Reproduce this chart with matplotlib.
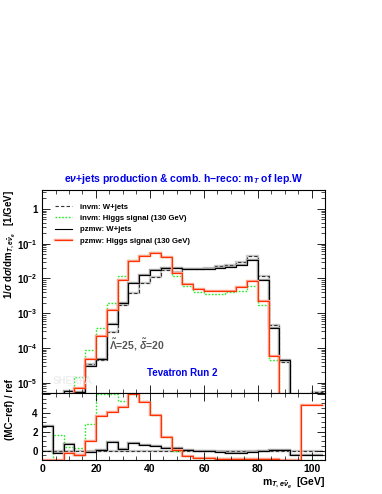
import numpy as np
import matplotlib
matplotlib.use("Agg")
import matplotlib.pyplot as plt
from matplotlib.ticker import MultipleLocator, LogLocator, NullFormatter, FuncFormatter
from matplotlib.lines import Line2D

plt.rcParams['font.family'] = ['Liberation Sans', 'DejaVu Sans']
plt.rcParams['font.weight'] = 'bold'
plt.rcParams['mathtext.fontset'] = 'custom'
plt.rcParams['mathtext.rm'] = 'Liberation Sans:bold'
plt.rcParams['mathtext.it'] = 'Liberation Sans:bold:italic'
plt.rcParams['mathtext.bf'] = 'Liberation Sans:bold'
plt.rcParams['mathtext.sf'] = 'Liberation Sans:bold'

# ---------------- data ----------------
bin_edges = np.arange(0, 108, 4)   # 26 bins of 4 GeV

invm_wjets = [1e-6, 4e-6, 4e-6, 5e-6, 3.4e-5, 4.6e-5, 2.95e-4, 1.74e-3, 3.8e-3, 7.6e-3,
              1.12e-2, 1.7e-2, 1.58e-2, 1.82e-2, 1.9e-2, 2.0e-2, 2.3e-2, 2.45e-2, 2.9e-2, 4.3e-2,
              1.2e-2, 4.7e-4, 4.0e-5, 0, 0, 5.5e-6]
invm_higgs = [0, 4e-6, 4e-6, 1.5e-5, 8.9e-5, 3.9e-4, 1.95e-3, 1.17e-2, 3.5e-2, 4.7e-2,
              5.6e-2, 4.1e-2, 1.17e-2, 5.9e-3, 4.0e-3, 3.6e-3, 3.6e-3, 4.0e-3, 4.5e-3, 5.9e-3,
              1.74e-3, 4.6e-5, 0, 0, 0, 0]
pzmw_wjets = [3e-6, 3e-6, 5.8e-6, 5.4e-6, 3.0e-5, 4.8e-5, 5.0e-4, 1.95e-3, 7.2e-3, 1.26e-2,
              1.7e-2, 2.0e-2, 2.0e-2, 1.9e-2, 1.86e-2, 1.86e-2, 2.0e-2, 2.2e-2, 2.45e-2, 3.3e-2,
              9.1e-3, 3.9e-4, 4.4e-5, 0, 0, 0]
pzmw_higgs = [0, 0, 4.0e-6, 7.2e-6, 4.8e-5, 2.2e-4, 1.26e-3, 9.1e-3, 3.2e-2, 4.3e-2,
              5.4e-2, 4.1e-2, 1.48e-2, 6.8e-3, 4.9e-3, 4.4e-3, 4.3e-3, 4.4e-3, 5.6e-3, 8.5e-3,
              2.3e-3, 5.8e-5, 0, 0, 3.2e-6, 3.2e-6]

# ratio (MC-ref)/ref, reference = invm W+jets
ratio_invm_wjets = [0.0] * 26
ratio_invm_higgs = [-1, 1.68, 0.39, 0.22, 2.83, 6.5, 6.5, 5.27, 6.5, 5.2,
                    3.77, 1.43, 0.0, -0.6, -0.75, -0.8, -0.82, -0.82, -0.82, -0.82,
                    -0.85, -0.9, -1, -1, -1, -1]
ratio_pzmw_wjets = [2.58, -0.3, 0.74, -0.48, -0.13, 0.04, 0.91, 0.15, 0.8, 0.56,
                    0.46, 0.22, 0.25, 0.04, -0.03, -0.06, -0.13, -0.3, -0.3, -0.13,
                    -0.06, 0.04, 0.1, -0.45, -0.45, -0.45]
ratio_pzmw_higgs = [-1, -1, -0.3, -0.48, 0.98, 3.7, 4.05, 4.57, 6.5, 5.1,
                    3.77, 1.43, 0.04, -0.58, -0.76, -0.83, -0.85, -0.85, -0.85, -0.85,
                    -0.85, -0.88, -1, -1, 4.8, 4.8]

labels = ["invm: W+jets", "invm: Higgs signal (130 GeV)",
          "pzmw: W+jets", "pzmw: Higgs signal (130 GeV)"]

# styles: (line color, linestyle, band color, line width)
styles = [("#333333", (0, (3, 2)), "#c8c8c8", 0.8),
          ("#22ee22", (0, (1.2, 1.2)), None, 1.0),
          ("black", "-", "#a0a0a0", 0.8),
          ("#ff3300", "-", "#ffa090", 0.8)]

XLIM = (0, 105)
MAIN_YLIM = (5e-6, 3.5)
RATIO_YLIM = (-1, 6.05)

fig = plt.figure(figsize=(3.82, 4.94), dpi=100)
axm = fig.add_axes([0.110, 0.2038, 0.7416, 0.4116])
axr = fig.add_axes([0.110, 0.0688, 0.7416, 0.1350], sharex=axm)

main_series = [invm_wjets, invm_higgs, pzmw_wjets, pzmw_higgs]
ratio_series = [ratio_invm_wjets, ratio_invm_higgs, ratio_pzmw_wjets, ratio_pzmw_higgs]

BAND_LW = 1.7

for vals, (col, ls, band, lw) in zip(main_series, styles):
    v = np.asarray(vals, dtype=float)
    v = np.where(v > 0, v, 1e-9)
    if band is not None:
        axm.stairs(v, bin_edges, baseline=None, color=band, lw=BAND_LW)
    axm.stairs(v, bin_edges, baseline=None, color=col, lw=lw, linestyle=ls)

for vals, (col, ls, band, lw) in zip(ratio_series, styles):
    v = np.clip(np.asarray(vals, dtype=float), RATIO_YLIM[0], RATIO_YLIM[1] - 0.05)
    if band is not None:
        axr.stairs(v, bin_edges, baseline=None, color=band, lw=BAND_LW)
    axr.stairs(v, bin_edges, baseline=None, color=col, lw=lw, linestyle=ls)

# axes setup
axm.set_yscale('log')
axm.set_xlim(*XLIM)
axm.set_ylim(*MAIN_YLIM)
axr.set_ylim(*RATIO_YLIM)

def logfmt(y, pos):
    e = int(round(np.log10(y)))
    if e == 0:
        return "1"
    return r"$10^{%d}$" % e

axm.yaxis.set_major_locator(LogLocator(base=10, numticks=20))
axm.yaxis.set_minor_locator(LogLocator(base=10, subs=np.arange(2, 10), numticks=20))
axm.yaxis.set_major_formatter(FuncFormatter(logfmt))
axm.yaxis.set_minor_formatter(NullFormatter())

for ax in (axm, axr):
    ax.xaxis.set_major_locator(MultipleLocator(20))
    ax.xaxis.set_minor_locator(MultipleLocator(5))
    ax.tick_params(which='both', direction='in', top=True, right=True, labelsize=7, pad=3)
    ax.tick_params(which='major', length=6, width=0.6)
    ax.tick_params(which='minor', length=3, width=0.5)
    for s in ax.spines.values():
        s.set_linewidth(0.8)
axr.tick_params(axis='x', labelsize=7.5)
plt.setp(axm.get_xticklabels(), visible=False)

axr.yaxis.set_major_locator(MultipleLocator(2))
axr.yaxis.set_minor_locator(MultipleLocator(0.5))
axr.yaxis.set_major_formatter(FuncFormatter(lambda y, p: "%d" % y if y <= 4.5 else ""))

# legend
handles = []
for col, ls, band, lw in styles:
    ln = Line2D([], [], color=col, lw=lw, linestyle=ls)
    if band is not None and col == "#ff3300":
        handles.append((Line2D([], [], color=band, lw=BAND_LW), ln))
    else:
        handles.append(ln)
axm.legend(handles, labels, loc='upper left', bbox_to_anchor=(0.025, 0.962), frameon=False,
           fontsize=5.6, handlelength=2.2, handletextpad=1.1, labelspacing=0.5,
           borderaxespad=0.3)

# texts
fig.text(0.48, 0.638, r"e$\nu$+jets production & comb. h−reco: m$_T$ of lep.W",
         color='#0000ee', fontsize=7.5, ha='center', va='center', fontweight='bold')
axm.text(25, 1.2e-4, r"$\tilde{\Lambda}$=25, $\tilde{\delta}$=20", color='#555555',
         fontsize=7.5, ha='left', va='center', fontweight='bold')
axm.text(52, 1.9e-5, "Tevatron Run 2", color='#0000ee', fontsize=7,
         ha='center', va='center', fontweight='bold')
axm.text(11.3, 1.15e-5, "SHERPA", color='#eeeeee', fontsize=7,
         ha='center', va='center', fontweight='bold')

fig.text(0.026, 0.615, r"1/$\sigma$ d$\sigma$/dm$_{T,e\bar{\nu}_e}$   [1/GeV]",
         rotation=90, ha='center', va='top', fontsize=7, fontweight='bold')
fig.text(0.026, 0.232, "(MC−ref) / ref", rotation=90, ha='center', va='top',
         fontsize=7, fontweight='bold')
fig.text(0.851, 0.024, r"m$_{T,e\bar{\nu}_e}$  [GeV]", ha='right', va='center',
         fontsize=7.5, fontweight='bold')

fig.savefig("out.png", dpi=100)
